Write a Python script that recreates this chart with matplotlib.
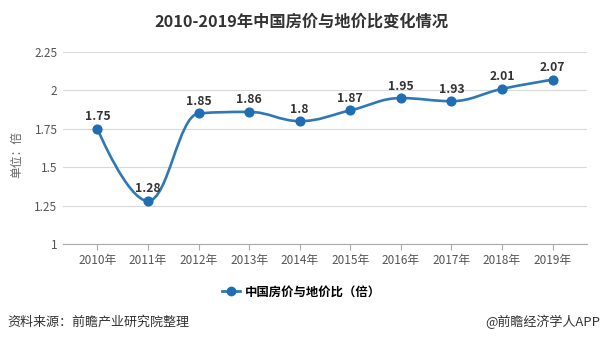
import numpy as np
import matplotlib
matplotlib.use("Agg")
import matplotlib.pyplot as plt
from matplotlib.path import Path
from matplotlib.patches import PathPatch
from matplotlib.lines import Line2D

plt.rcParams['font.family'] = ['Noto Sans CJK SC', 'DejaVu Sans']

years = ["2010年", "2011年", "2012年", "2013年", "2014年",
         "2015年", "2016年", "2017年", "2018年", "2019年"]
ratio = [1.75, 1.28, 1.85, 1.86, 1.8, 1.87, 1.95, 1.93, 2.01, 2.07]
labels = ["1.75", "1.28", "1.85", "1.86", "1.8", "1.87", "1.95", "1.93", "2.01", "2.07"]
yticks = [1, 1.25, 1.5, 1.75, 2, 2.25]
ytick_labels = ["1", "1.25", "1.5", "1.75", "2", "2.25"]

LINE = "#2f78b7"
MARK = "#1f6db2"


def spline_path(xs, ys, smoothing=1.5):
    # bezier control points, same idea as the highcharts spline
    verts = [(xs[0], ys[0])]
    codes = [Path.MOVETO]
    n = len(xs)
    right = [None] * n
    left = [None] * n
    for i in range(1, n - 1):
        px, py = xs[i], ys[i]
        lx, ly = xs[i - 1], ys[i - 1]
        nx, ny = xs[i + 1], ys[i + 1]
        d = smoothing + 1
        lcx = (smoothing * px + lx) / d
        lcy = (smoothing * py + ly) / d
        rcx = (smoothing * px + nx) / d
        rcy = (smoothing * py + ny) / d
        corr = (rcy - lcy) * (rcx - px) / (rcx - lcx) + py - rcy
        lcy += corr
        rcy += corr
        if lcy > ly and lcy > py:
            lcy = max(ly, py); rcy = 2 * py - lcy
        elif lcy < ly and lcy < py:
            lcy = min(ly, py); rcy = 2 * py - lcy
        if rcy > ny and rcy > py:
            rcy = max(ny, py); lcy = 2 * py - rcy
        elif rcy < ny and rcy < py:
            rcy = min(ny, py); lcy = 2 * py - rcy
        left[i] = (lcx, lcy)
        right[i] = (rcx, rcy)
    for i in range(1, n):
        c1 = right[i - 1] if right[i - 1] is not None else (xs[i - 1], ys[i - 1])
        c2 = left[i] if left[i] is not None else (xs[i], ys[i])
        verts += [c1, c2, (xs[i], ys[i])]
        codes += [Path.CURVE4] * 3
    return Path(verts, codes)


fig = plt.figure(figsize=(6.03, 3.43), dpi=100)
ax = fig.add_axes([0.1045, 0.2886, 0.869, 0.5598])

x = np.arange(len(years))
ax.add_patch(PathPatch(spline_path(x, ratio), facecolor="none",
                       edgecolor=LINE, lw=1.9, zorder=3))
ax.plot(x, ratio, "o", color=MARK, ms=6.3, zorder=4)

for xi, yi, t in zip(x, ratio, labels):
    ax.annotate(t, (xi, yi), xytext=(0, 4), textcoords="offset points",
                ha="center", va="bottom", fontsize=8.8, fontweight="bold",
                color="#333333")

ax.set_xlim(-0.68, 9.68)
ax.set_ylim(1, 2.25)
ax.set_yticks(yticks)
ax.set_yticklabels(ytick_labels)
ax.set_xticks(x)
ax.set_xticklabels(years)
ax.grid(axis="y", color="#d9d9d9", lw=0.8)
ax.set_axisbelow(True)
for s in ["top", "right", "left"]:
    ax.spines[s].set_visible(False)
ax.spines["bottom"].set_color("#aaaaaa")
ax.tick_params(axis="y", length=0, labelsize=8.5, labelcolor="#555555", pad=4)
ax.tick_params(axis="x", length=4, color="#aaaaaa", labelsize=8.5,
               labelcolor="#555555", pad=3)

fig.text(17 / 603, 1 - 155 / 343, "单位：倍", rotation=90, ha="center",
         va="center", fontsize=8.5, color="#666666")

fig.text(0.5, 1 - 22 / 343, "2010-2019年中国房价与地价比变化情况", ha="center",
         va="center", fontsize=11.7, fontweight="bold", color="#333333")

h = Line2D([], [], color=LINE, lw=2, marker="o", ms=6, mfc=MARK, mec=MARK)
fig.legend([h], ["中国房价与地价比（倍）"], loc="center",
           bbox_to_anchor=(0.5, 1 - 292 / 343), frameon=False,
           prop={"size": 8.9, "weight": "bold"}, handlelength=1.4,
           handletextpad=0.4)

fig.text(0.012, 1 - 322 / 343, "资料来源：前瞻产业研究院整理", ha="left",
         va="center", fontsize=9.4, color="#333333")
fig.text(0.995, 1 - 322 / 343, "@前瞻经济学人APP", ha="right", va="center",
         fontsize=9.4, color="#333333")

fig.savefig("out.png", dpi=100)
